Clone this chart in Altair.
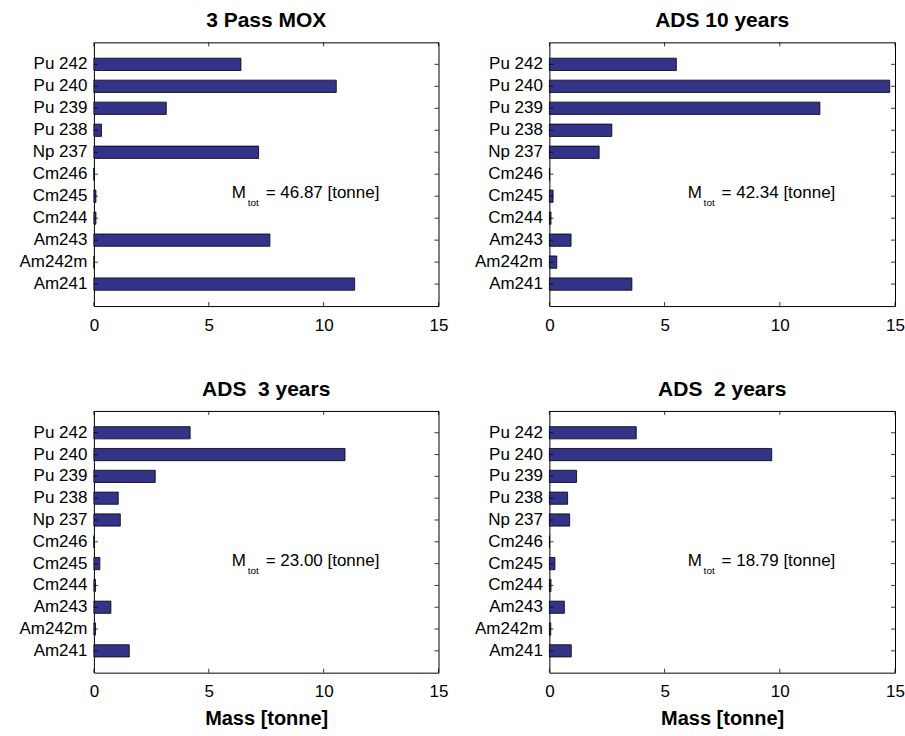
import altair as alt
import pandas as pd

# Nuclide labels, listed top to bottom
nuclides = ["Pu 242", "Pu 240", "Pu 239", "Pu 238", "Np 237",
            "Cm246", "Cm245", "Cm244", "Am243", "Am242m", "Am241"]

# Masses in tonnes for each scenario
mox_3pass = [6.40, 10.55, 3.15, 0.33, 7.17, 0.005, 0.09, 0.09, 7.66, 0.01, 11.35]
ads_10y = [5.51, 14.77, 11.74, 2.71, 2.16, 0.005, 0.16, 0.07, 0.94, 0.32, 3.58]
ads_3y = [4.19, 10.93, 2.67, 1.06, 1.15, 0.005, 0.26, 0.07, 0.74, 0.07, 1.54]
ads_2y = [3.77, 9.65, 1.18, 0.79, 0.88, 0.005, 0.24, 0.07, 0.65, 0.06, 0.95]

titles = ["3 Pass MOX", "ADS 10 years", "ADS\u00a0 3 years", "ADS\u00a0 2 years"]
totals = ["46.87", "42.34", "23.00", "18.79"]

x_ticks = [0, 5, 10, 15]

FONT = "Liberation Sans"
BAR_FILL = "#333388"


def panel(title, values, total, width, height, x_title):
    df = pd.DataFrame({"nuclide": nuclides, "mass": values})
    ticks_df = pd.DataFrame({"t": x_ticks})
    note_df = pd.DataFrame({"k": [0]})

    x_scale = alt.Scale(domain=[0, 15], nice=False, zero=True)
    y_scale = alt.Scale(domain=nuclides, paddingInner=0.44, paddingOuter=0.72)

    axis_kw = dict(values=x_ticks, ticks=False, domain=False, grid=False,
                   labelFontSize=17, labelPadding=11, labelFont=FONT,
                   labelColor="black", format="d", labelFlush=False)
    if x_title:
        x_axis = alt.Axis(title=x_title, titleFontSize=20, titleFont=FONT,
                          titleFontWeight="bold", titleColor="black",
                          titlePadding=9, **axis_kw)
    else:
        x_axis = alt.Axis(title=None, **axis_kw)
    y_axis = alt.Axis(ticks=False, domain=False, grid=False, title=None,
                      labelFontSize=17, labelFont=FONT, labelColor="black",
                      labelPadding=7, minExtent=93, maxExtent=93)

    base = alt.Chart(df)

    bars = base.mark_bar(fill=BAR_FILL, stroke="black", strokeWidth=0.8).encode(
        x=alt.X("mass:Q", scale=x_scale, axis=x_axis),
        y=alt.Y("nuclide:N", scale=y_scale, axis=y_axis, sort=nuclides),
    )

    # inward tick marks on the left and right edges
    left_ticks = base.mark_rule(color="black", strokeWidth=0.8).encode(
        y=alt.Y("nuclide:N", scale=y_scale, sort=nuclides),
        x=alt.value(0), x2=alt.value(4),
    )
    right_ticks = base.mark_rule(color="black", strokeWidth=0.8).encode(
        y=alt.Y("nuclide:N", scale=y_scale, sort=nuclides),
        x=alt.value(width - 4), x2=alt.value(width),
    )
    # inward tick marks on the top and bottom edges
    top_ticks = alt.Chart(ticks_df).mark_rule(color="black", strokeWidth=0.8).encode(
        x=alt.X("t:Q", scale=x_scale),
        y=alt.value(0), y2=alt.value(4),
    )
    bottom_ticks = alt.Chart(ticks_df).mark_rule(color="black", strokeWidth=0.8).encode(
        x=alt.X("t:Q", scale=x_scale),
        y=alt.value(height - 4), y2=alt.value(height),
    )

    # total mass annotation: M with subscript "tot"
    note = alt.Chart(note_df)
    m_text = note.mark_text(
        text="M", align="left", baseline="middle", fontSize=17, font=FONT,
        color="black", dy=-3,
    ).encode(x=alt.datum(6.0), y=alt.datum("Cm245"))
    sub_text = note.mark_text(
        text="tot", align="left", baseline="middle", fontSize=10, font=FONT,
        color="black", dx=16, dy=7,
    ).encode(x=alt.datum(6.0), y=alt.datum("Cm245"))
    rest_text = note.mark_text(
        text=f"= {total} [tonne]", align="left", baseline="middle",
        fontSize=17, font=FONT, color="black", dx=34, dy=-3,
    ).encode(x=alt.datum(6.0), y=alt.datum("Cm245"))

    return alt.layer(
        bars, left_ticks, right_ticks, top_ticks, bottom_ticks,
        m_text, sub_text, rest_text,
    ).properties(
        width=width, height=height,
        title=alt.Title(title, fontSize=21, font=FONT, fontWeight="bold",
                        color="black", offset=11, anchor="middle"),
    )


p1 = panel(titles[0], mox_3pass, totals[0], 345, 264, None)
p2 = panel(titles[1], ads_10y, totals[1], 346, 264, None)
p3 = panel(titles[2], ads_3y, totals[2], 345, 262, "Mass [tonne]")
p4 = panel(titles[3], ads_2y, totals[3], 346, 262, "Mass [tonne]")

top = alt.hconcat(p1, p2, spacing=7)
bottom = alt.hconcat(p3, p4, spacing=7)

chart = alt.vconcat(top, bottom, spacing=44).properties(
    padding={"left": 0, "top": 9, "right": 0, "bottom": 0},
    background="white",
).configure_view(
    stroke="black", strokeWidth=1,
).resolve_scale(x="independent", y="independent")

chart.save("out.html", embed_options={"renderer": "svg", "actions": False})
